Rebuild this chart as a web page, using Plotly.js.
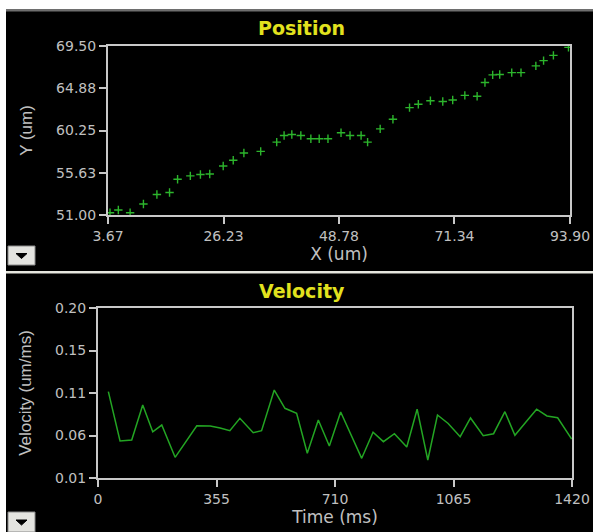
<!DOCTYPE html>
<html>
<head>
<meta charset="utf-8">
<script src="https://cdn.plot.ly/plotly-3.0.1.min.js"></script>
<style>
html,body{margin:0;padding:0;background:#000;}
#chart{width:593px;height:532px;}
</style>
</head>
<body>
<div id="chart"></div>
<script>
// ---- Data ----
const posX = [4.06, 5.69, 7.99, 10.59, 13.22, 15.69, 17.26, 19.75, 21.72, 23.54, 26.17, 28.13, 30.21, 33.49, 36.62, 38.06, 39.57, 41.33, 43.29, 44.92, 46.63, 49.18, 50.94, 53.10, 54.37, 56.83, 59.32, 62.56, 64.28, 66.64, 69.05, 70.99, 73.36, 75.76, 77.29, 78.80, 80.17, 82.52, 84.33, 87.23, 88.74, 90.66, 93.60];
const posY = [51.25, 51.54, 51.25, 52.20, 53.25, 53.47, 54.92, 55.28, 55.43, 55.49, 56.36, 56.99, 57.78, 57.96, 58.98, 59.71, 59.81, 59.71, 59.35, 59.35, 59.35, 60.01, 59.71, 59.71, 58.98, 60.43, 61.48, 62.75, 63.13, 63.51, 63.43, 63.59, 64.10, 64.00, 65.51, 66.34, 66.38, 66.59, 66.59, 67.32, 67.90, 68.47, 69.35];

const velT = [31, 66, 101, 134, 164, 191, 231, 264, 296, 336, 366, 395, 425, 465, 490, 528, 560, 595, 627, 660, 693, 727, 758, 790, 824, 855, 888, 925, 956, 988, 1017, 1049, 1085, 1116, 1154, 1185, 1219, 1249, 1282, 1314, 1345, 1377, 1419];
const velV = [0.1065, 0.0514, 0.0525, 0.0916, 0.0617, 0.0692, 0.0331, 0.0514, 0.0684, 0.0681, 0.0659, 0.0629, 0.0767, 0.0606, 0.0629, 0.1083, 0.0879, 0.0823, 0.0376, 0.0748, 0.0458, 0.0838, 0.0580, 0.0320, 0.0611, 0.0506, 0.0595, 0.0446, 0.0869, 0.0301, 0.0804, 0.0709, 0.0562, 0.0771, 0.0572, 0.0595, 0.0841, 0.0577, 0.0726, 0.0869, 0.0793, 0.0773, 0.0536];

const posXTicks = [3.67, 26.23, 48.78, 71.34, 93.90];
const posXTickText = ["3.67", "26.23", "48.78", "71.34", "93.90"];
const posYTicks = [51.00, 55.625, 60.25, 64.875, 69.50];
const posYTickText = ["51.00", "55.63", "60.25", "64.88", "69.50"];
const velXTicks = [0, 355, 710, 1065, 1420];
const velXTickText = ["0", "355", "710", "1065", "1420"];
const velYTicks = [0.01, 0.0575, 0.105, 0.1525, 0.20];
const velYTickText = ["0.01", "0.06", "0.11", "0.15", "0.20"];

const titles = {pos: "Position", vel: "Velocity", posX: "X (um)", posY: "Y (um)", velX: "Time (ms)", velY: "Velocity (um/ms)"};

// ---- helpers: pixel -> paper ----
const W = 593, H = 532;
const px = x => x / W;
const py = y => 1 - y / H;

const frame = '#c8c8c8';
const tickFont = {family: 'DejaVu Sans', size: 14, color: '#c0c0c0'};
const xTitleFont = {family: 'DejaVu Sans', size: 17, color: '#c0c0c0'};
const yTitleFont = {family: 'Liberation Sans, Arial', size: 17, color: '#c0c0c0'};
const green = '#2cb52c';

const axBase = {
  showgrid: false, zeroline: false, showline: true, mirror: true,
  linecolor: frame, linewidth: 2, ticks: 'outside', ticklen: 7, tickwidth: 2,
  tickcolor: frame, tickfont: tickFont, tickmode: 'array', fixedrange: true
};

const traces = [
  {x: posX, y: posY, xaxis: 'x', yaxis: 'y', type: 'scatter', mode: 'markers',
   marker: {symbol: 'cross-thin', size: 6, line: {color: green, width: 1.4}, color: green},
   hoverinfo: 'skip'},
  {x: velT, y: velV, xaxis: 'x2', yaxis: 'y2', type: 'scatter', mode: 'lines',
   line: {color: '#23a523', width: 1.5}, hoverinfo: 'skip'}
];

function btn(y0, y1) {
  const cy = (y0 + y1) / 2;
  return [
    {type: 'rect', xref: 'paper', yref: 'paper', x0: px(8), x1: px(35), y0: py(y1), y1: py(y0),
     fillcolor: '#e4e4e0', line: {color: '#8a8a8a', width: 1}, layer: 'above'},
    {type: 'path', xref: 'paper', yref: 'paper',
     path: `M ${px(16)} ${py(cy - 2)} L ${px(27)} ${py(cy - 2)} L ${px(21.5)} ${py(cy + 3)} Z`,
     fillcolor: '#000', line: {color: '#000', width: 1}, layer: 'above'}
  ];
}

const shapes = [
  {type: 'rect', xref: 'paper', yref: 'paper', x0: 0, x1: px(6), y0: 0, y1: 1, fillcolor: '#fff', line: {width: 0}, layer: 'below'},
  {type: 'rect', xref: 'paper', yref: 'paper', x0: 0, x1: 1, y0: py(9), y1: 1, fillcolor: '#fff', line: {width: 0}, layer: 'below'},
  {type: 'rect', xref: 'paper', yref: 'paper', x0: px(6), x1: 1, y0: py(11.5), y1: py(9), fillcolor: '#6e6e6e', line: {width: 0}, layer: 'below'},
  {type: 'rect', xref: 'paper', yref: 'paper', x0: px(6), x1: 1, y0: py(273.5), y1: py(271), fillcolor: '#e6e6de', line: {width: 0}, layer: 'below'},
  ...btn(246, 265),
  ...btn(512, 532)
];

const layout = {
  width: W, height: H,
  margin: {l: 0, r: 0, t: 0, b: 0},
  paper_bgcolor: '#000', plot_bgcolor: '#000',
  showlegend: false,
  xaxis: Object.assign({}, axBase, {
    domain: [px(108), px(570)], range: [3.67, 93.90], anchor: 'y',
    tickvals: posXTicks, ticktext: posXTickText,
    title: {text: titles.posX, font: xTitleFont, standoff: 2}
  }),
  yaxis: Object.assign({}, axBase, {
    domain: [py(215), py(46)], range: [51, 69.5], anchor: 'x',
    tickvals: posYTicks, ticktext: posYTickText,
    title: {text: titles.posY, font: yTitleFont, standoff: 19}
  }),
  xaxis2: Object.assign({}, axBase, {
    domain: [px(98), px(572)], range: [0, 1420], anchor: 'y2',
    tickvals: velXTicks, ticktext: velXTickText,
    title: {text: titles.velX, font: xTitleFont, standoff: 4}
  }),
  yaxis2: Object.assign({}, axBase, {
    domain: [py(478), py(308)], range: [0.01, 0.20], anchor: 'x2',
    tickvals: velYTicks, ticktext: velYTickText,
    title: {text: titles.velY, font: yTitleFont, standoff: 19}
  }),
  annotations: [
    {text: '<b>' + titles.pos + '</b>', xref: 'paper', yref: 'paper', x: px(302), y: py(28),
     xanchor: 'center', yanchor: 'middle', showarrow: false,
     font: {family: 'DejaVu Sans', size: 19, color: '#e2e21e'}},
    {text: '<b>' + titles.vel + '</b>', xref: 'paper', yref: 'paper', x: px(302), y: py(291),
     xanchor: 'center', yanchor: 'middle', showarrow: false,
     font: {family: 'DejaVu Sans', size: 19, color: '#e2e21e'}}
  ],
  shapes: shapes
};

Plotly.newPlot('chart', traces, layout, {displayModeBar: false, staticPlot: true});
</script>
</body>
</html>
